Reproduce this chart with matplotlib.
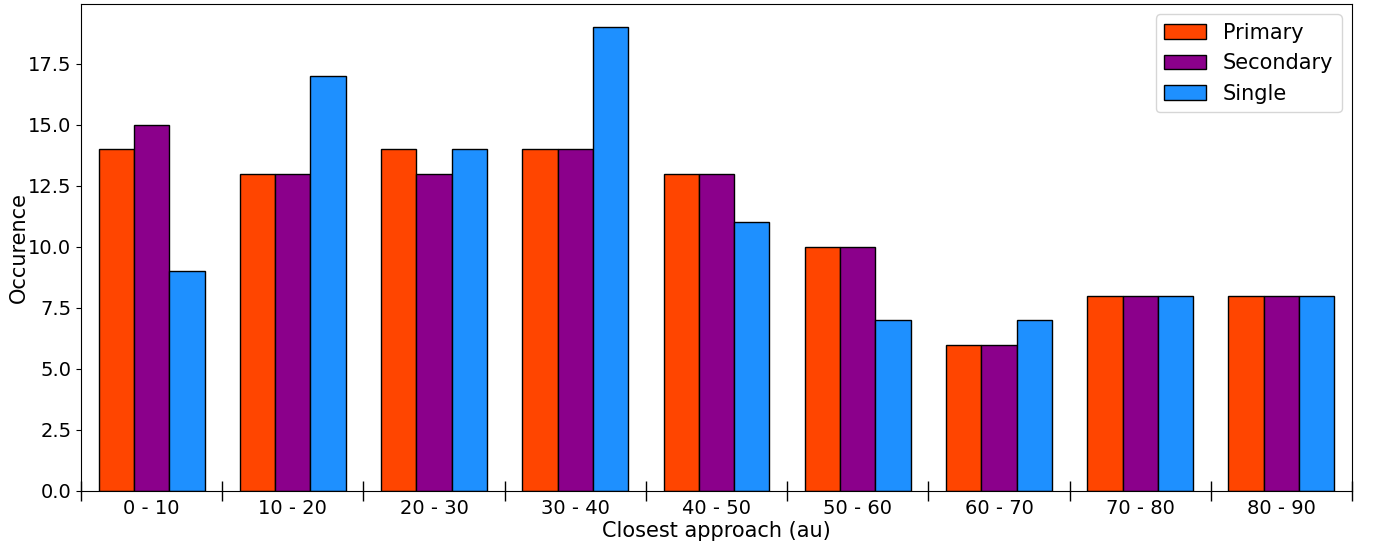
import matplotlib
matplotlib.use("Agg")
import matplotlib.pyplot as plt
import numpy as np
from matplotlib.ticker import FixedLocator

categories = ["0 - 10", "10 - 20", "20 - 30", "30 - 40", "40 - 50",
              "50 - 60", "60 - 70", "70 - 80", "80 - 90"]
primary = [14, 13, 14, 14, 13, 10, 6, 8, 8]
secondary = [15, 13, 13, 14, 13, 10, 6, 8, 8]
single = [9, 17, 14, 19, 11, 7, 7, 8, 8]

fig = plt.figure(figsize=(13.73, 5.41), dpi=100)
ax = fig.add_axes([81/1373, 1-491/541, (1352-81)/1373, (491-4)/541])

x = np.arange(len(categories))
w = 0.25
ax.bar(x - w, primary, w, color="orangered", edgecolor="black", label="Primary")
ax.bar(x, secondary, w, color="darkmagenta", edgecolor="black", label="Secondary")
ax.bar(x + w, single, w, color="dodgerblue", edgecolor="black", label="Single")

ax.set_xlim(-0.5, len(categories) - 0.5)
ax.set_xticks(x)
ax.set_xticklabels(categories, fontsize=14)
ax.tick_params(axis="x", which="major", length=0, pad=6)
ax.xaxis.set_minor_locator(FixedLocator(np.arange(len(categories) + 1) - 0.5))
ax.tick_params(axis="x", which="minor", direction="inout", length=14, width=1)
ax.tick_params(axis="y", labelsize=14)
ax.set_xlabel("Closest approach (au)", fontsize=15, labelpad=2)
ax.set_ylabel("Occurence", fontsize=15, labelpad=-1)
ax.legend(loc="upper right", fontsize=15)

fig.savefig("out.png", dpi=100)
